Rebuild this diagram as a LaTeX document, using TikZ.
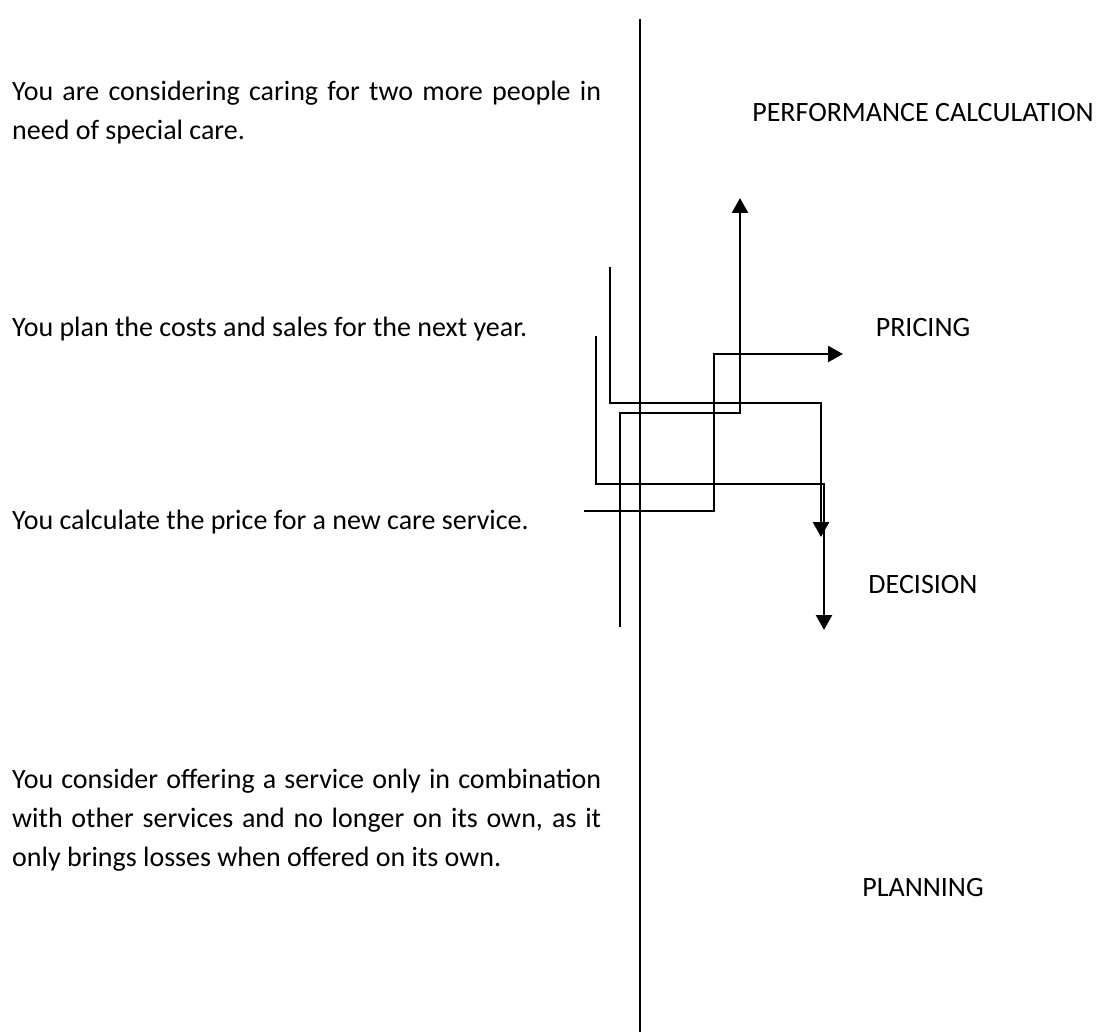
\documentclass[tikz,border=0pt]{standalone}
\usepackage{fontspec}
\setmainfont{Carlito}
\usepackage{tikz}
\usetikzlibrary{arrows.meta, positioning}

\begin{document}
\begin{tikzpicture}[
  x=1pt, y=-1pt,
  divider/.style={line width=2pt},
  flowline/.style={line width=2.5pt},
  flowarrow/.style={flowline, -{Triangle[length=15pt, width=16pt]}},
  sitline/.style={anchor=base west, inner sep=0pt, font=\fontsize{28pt}{39pt}\selectfont},
  catlabel/.style={anchor=base, inner sep=0pt, font=\fontsize{28pt}{39pt}\selectfont},
]
  \useasboundingbox (0,0) rectangle (1104,1032);

  \coordinate (divtop) at (640,19);
  \coordinate (divbot) at (640,1032);
  \draw[divider] (divtop) -- (divbot);

  \node[sitline] (s1a) at (12,101) {\makebox[589pt][s]{You are considering caring for two more people in}};
  \node[sitline] (s1b) at (12,140) {need of special care.};
  \node[sitline] (s2) at (12,337) {You plan the costs and sales for the next year.};
  \node[sitline] (s3) at (12,529) {You calculate the price for a new care service.};
  \node[sitline] (s4a) at (12,788) {\makebox[589pt][s]{You consider offering a service only in combination}};
  \node[sitline] (s4b) at (12,827) {\makebox[589pt][s]{with other services and no longer on its own, as it}};
  \node[sitline] (s4c) at (12,866) {only brings losses when offered on its own.};

  \node[catlabel] (perf) at (923,122) {PERFORMANCE CALCULATION};
  \node[catlabel] (pricing) at (923,337) {PRICING};
  \node[catlabel] (decision) at (923,593) {DECISION};
  \node[catlabel] (planning) at (923,896) {PLANNING};

  \coordinate (aS) at (610,267);
  \coordinate (aK) at (821,403);
  \coordinate (aE) at (821,537);
  \coordinate (bS) at (596,336);
  \coordinate (bK) at (824,484);
  \coordinate (bE) at (824,630);
  \coordinate (cS) at (620,627);
  \coordinate (cK) at (740,413);
  \coordinate (cE) at (740,198);
  \coordinate (dS) at (584,511);
  \coordinate (dK) at (714,354);
  \coordinate (dE) at (843,354);

  \draw[flowarrow] (aS) |- (aK) -- (aE);
  \draw[flowarrow] (bS) |- (bK) -- (bE);
  \draw[flowarrow] (cS) |- (cK) -- (cE);
  \draw[flowarrow] (dS) -| (dK) -- (dE);
\end{tikzpicture}
\end{document}
